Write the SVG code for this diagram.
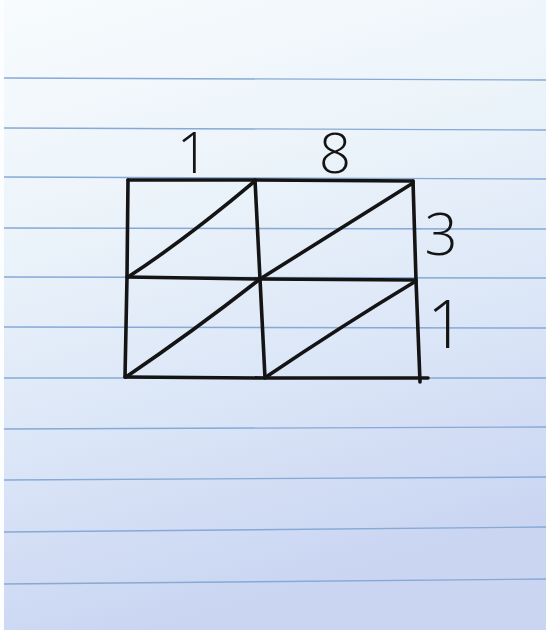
<svg xmlns="http://www.w3.org/2000/svg" width="546" height="630" viewBox="0 0 546 630">
  <defs>
    <linearGradient id="paper" x1="0" y1="0" x2="0.25" y2="1">
      <stop offset="0" stop-color="#f7fbfd"/>
      <stop offset="0.35" stop-color="#ecf4fa"/>
      <stop offset="0.7" stop-color="#dae5f7"/>
      <stop offset="1" stop-color="#cad5f2"/>
    </linearGradient>
    <style>
      .rule { stroke: #86a9d6; stroke-width: 1.4; fill: none; }
      .ink { stroke: #141414; stroke-width: 3.6; fill: none; stroke-linecap: round; stroke-linejoin: round; }
      .digit { font-family: "Open Sans", "Liberation Sans", sans-serif; font-weight: 300; fill: #141414; text-anchor: middle; }
    </style>
  </defs>

  <g id="paper-bg">
    <rect x="0" y="0" width="546" height="630" fill="#fbfdfe"/>
    <rect x="4" y="0" width="542" height="630" fill="url(#paper)"/>
  </g>

  <g id="ruled-lines">
    <line class="rule" x1="4" y1="78" x2="546" y2="80"/>
    <line class="rule" x1="4" y1="128" x2="546" y2="130"/>
    <line class="rule" x1="4" y1="177" x2="546" y2="179"/>
    <line class="rule" x1="4" y1="228" x2="546" y2="229"/>
    <line class="rule" x1="4" y1="277" x2="546" y2="278"/>
    <line class="rule" x1="4" y1="327" x2="546" y2="328"/>
    <line class="rule" x1="4" y1="378" x2="546" y2="378"/>
    <line class="rule" x1="4" y1="429" x2="546" y2="427"/>
    <line class="rule" x1="4" y1="480" x2="546" y2="477"/>
    <line class="rule" x1="4" y1="532" x2="546" y2="527"/>
    <line class="rule" x1="4" y1="584" x2="546" y2="579"/>
  </g>

  <g id="lattice-grid">
    <path class="ink" d="M128,180 L255,180 L413,181"/>
    <path class="ink" d="M127,277 L260,279 L416,280"/>
    <path class="ink" d="M125,377 L265,378 L428,378"/>
    <path class="ink" d="M128,180 L127,277 L125,377"/>
    <path class="ink" d="M255,180 L260,279 L265,378"/>
    <path class="ink" d="M413,181 L416,280 L420,382"/>
  </g>

  <g id="diagonals">
    <path class="ink" d="M128,277 Q185,240 255,181"/>
    <path class="ink" d="M260,279 Q330,235 413,183"/>
    <path class="ink" d="M126,377 Q195,330 260,279"/>
    <path class="ink" d="M266,377 Q340,327 416,281"/>
  </g>

  <g id="labels">
    <text class="digit" x="193" y="173" font-size="57">1</text>
    <text class="digit" x="335" y="173" font-size="56">8</text>
    <text class="digit" x="441" y="255" font-size="58">3</text>
    <text class="digit" x="446" y="348" font-size="66">1</text>
  </g>
</svg>
